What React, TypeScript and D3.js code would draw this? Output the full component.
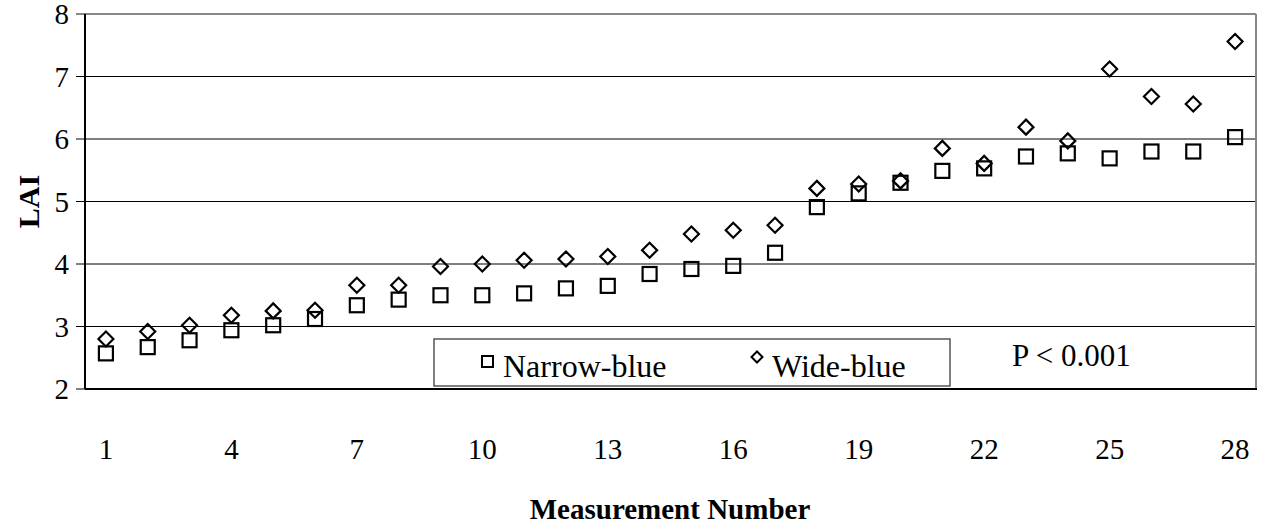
import React from "react";
import * as d3 from "d3";

const categories: number[] = d3.range(1, 29);
const narrowBlue: number[] = [
  2.57, 2.67, 2.78, 2.94, 3.02, 3.12, 3.34, 3.43, 3.5, 3.5, 3.53, 3.61, 3.65, 3.84,
  3.92, 3.97, 4.18, 4.91, 5.13, 5.3, 5.49, 5.53, 5.72, 5.77, 5.69, 5.8, 5.8, 6.03,
];
const wideBlue: number[] = [
  2.8, 2.92, 3.02, 3.18, 3.25, 3.26, 3.66, 3.66, 3.96, 4.0, 4.06, 4.08, 4.12, 4.22,
  4.48, 4.54, 4.62, 5.21, 5.28, 5.33, 5.85, 5.61, 6.19, 5.97, 7.12, 6.68, 6.56, 7.56,
];
const yTicks: number[] = [2, 3, 4, 5, 6, 7, 8];
const xTickLabels: number[] = [1, 4, 7, 10, 13, 16, 19, 22, 25, 28];

const W = 1267;
const H = 525;
const left = 85;
const right = 1256;
const top = 14;
const bottom = 389;
const FONT = "'Liberation Serif', 'Times New Roman', serif";

export default function App() {
  const x = d3.scaleBand<number>().domain(categories).range([left, right]).padding(0);
  const y = d3.scaleLinear().domain([2, 8]).range([bottom, top]);
  const cx = (c: number) => (x(c) as number) + x.bandwidth() / 2;
  const sq = 14;
  const dm = 7.5;
  const diamond = (px: number, py: number, r: number) =>
    `M${px},${py - r}L${px + r},${py}L${px},${py + r}L${px - r},${py}Z`;

  return (
    <svg
      width={W}
      height={H}
      style={{ position: "absolute", left: 0, top: 0, background: "#fff" }}
      fontFamily={FONT}
    >
      {/* gridlines */}
      {yTicks.map((t) => (
        <line
          key={"g" + t}
          x1={left - 9}
          x2={right}
          y1={y(t)}
          y2={y(t)}
          stroke={t === 8 ? "#888" : "#000"}
          strokeWidth={t === 8 ? 2 : 1}
        />
      ))}
      {/* frame */}
      <line x1={right} x2={right} y1={top} y2={bottom} stroke="#888" strokeWidth={2} />
      <line x1={left} x2={left} y1={top} y2={bottom} stroke="#000" strokeWidth={2} />
      <line x1={left} x2={right + 1} y1={bottom} y2={bottom} stroke="#000" strokeWidth={2} />
      {/* y tick labels */}
      {yTicks.map((t) => (
        <text key={"yl" + t} x={69} y={y(t)} dy="0.35em" textAnchor="end" fontSize={29}>
          {t}
        </text>
      ))}
      {/* x tick labels */}
      {xTickLabels.map((c) => (
        <text key={"xl" + c} x={cx(c)} y={449} dy="0.35em" textAnchor="middle" fontSize={29}>
          {c}
        </text>
      ))}
      {/* axis titles */}
      <text x={670} y={509} dy="0.35em" textAnchor="middle" fontSize={29} fontWeight="bold">
        Measurement Number
      </text>
      <text
        transform={`translate(28,${(top + bottom) / 2}) rotate(-90)`}
        dy="0.35em"
        textAnchor="middle"
        fontSize={30}
        fontWeight="bold"
      >
        LAI
      </text>
      {/* legend */}
      <rect x={434} y={339} width={516} height={47} fill="#fff" stroke="#555" strokeWidth={1.5} />
      <rect x={482} y={356} width={11} height={11} fill="none" stroke="#000" strokeWidth={2} />
      <text x={503} y={377} fontSize={32}>Narrow-blue</text>
      <path d={diamond(757, 357, 5.5)} fill="none" stroke="#000" strokeWidth={2} />
      <text x={772} y={377} fontSize={32}>Wide-blue</text>
      <text x={1012} y={366} fontSize={31}>P &lt; 0.001</text>
      {/* series */}
      {categories.map((c, i) => (
        <rect
          key={"n" + c}
          x={cx(c) - sq / 2}
          y={y(narrowBlue[i]) - sq / 2}
          width={sq}
          height={sq}
          fill="none"
          stroke="#000"
          strokeWidth={2.2}
        />
      ))}
      {categories.map((c, i) => (
        <path
          key={"w" + c}
          d={diamond(cx(c), y(wideBlue[i]), dm)}
          fill="none"
          stroke="#000"
          strokeWidth={2.2}
        />
      ))}
    </svg>
  );
}
